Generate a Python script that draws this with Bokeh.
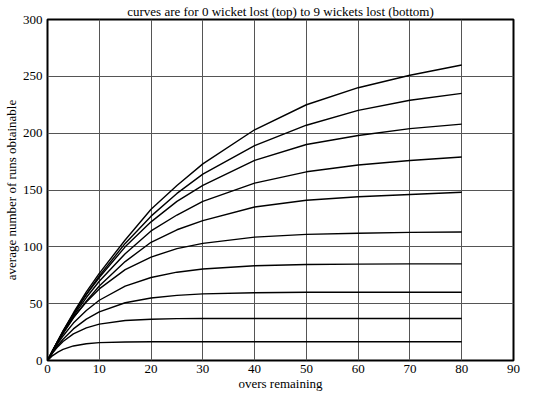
from bokeh.plotting import figure
from bokeh.models import SingleIntervalTicker, Title
from bokeh.embed import file_html
from bokeh.resources import INLINE

overs = [0, 1, 2, 3, 5, 7.5, 10, 15, 20, 25, 30, 40, 50, 60, 70, 80]

runs_0w = [0, 8.8, 17.4, 26, 41.8, 60.4, 76.7, 106, 133, 154, 173, 203, 225, 240, 251, 260]
runs_1w = [0, 8.7, 17.2, 25.6, 40.5, 58.1, 74.4, 103, 127, 147, 164, 189, 207, 220, 229, 235]
runs_2w = [0, 8.9, 17.4, 25.5, 41, 58, 73, 100, 122, 140, 154, 176, 190, 198, 204, 208]
runs_3w = [0, 8.6, 16.8, 24.6, 39, 55.4, 69.7, 94, 114, 128, 140, 156, 166, 172, 176, 179]
runs_4w = [0, 8.4, 16.3, 23.7, 37.5, 52.2, 65.6, 87, 104, 115, 123, 135, 141, 144, 146, 148]
runs_5w = [0, 8.8, 16.9, 24.2, 37.8, 51.4, 63, 80, 91, 98.4, 103, 108.5, 111, 112, 112.7, 113]
runs_6w = [0, 7.9, 15.1, 21.6, 32.9, 44, 53, 65.5, 73, 77.7, 80.5, 83.3, 84.4, 84.8, 85, 85]
runs_7w = [0, 7, 13.2, 18.7, 27.8, 36.4, 42.7, 50.8, 55, 57.3, 58.6, 59.6, 60, 60, 60, 60]
runs_8w = [0, 6.7, 12.2, 16.7, 23.4, 28.7, 32, 35.2, 36.3, 36.8, 37, 37, 37, 37, 37, 37]
runs_9w = [0, 4.3, 7.4, 9.8, 12.8, 14.7, 15.7, 16.3, 16.5, 16.5, 16.5, 16.5, 16.5, 16.5, 16.5, 16.5]

all_runs = [runs_0w, runs_1w, runs_2w, runs_3w, runs_4w,
            runs_5w, runs_6w, runs_7w, runs_8w, runs_9w]

title_text = "curves are for 0 wicket lost (top) to 9 wickets lost (bottom)"
x_label = "overs remaining"
y_label = "average number of runs obtainable"

FONT = "Liberation Serif"

p = figure(width=541, height=398, x_range=(0, 90), y_range=(0, 300),
           output_backend="svg", toolbar_location=None,
           min_border_left=47, min_border_right=28,
           min_border_top=0, min_border_bottom=38)

p.background_fill_color = "white"
p.border_fill_color = "white"
p.outline_line_color = "black"
p.outline_line_width = 2

p.title.text = title_text
p.title.align = "center"
p.title.text_font = FONT
p.title.text_font_size = "13px"
p.title.text_font_style = "normal"
p.title.text_color = "black"
p.title.standoff = 2
p.title.offset = 0

p.xaxis.ticker = SingleIntervalTicker(interval=10)
p.yaxis.ticker = SingleIntervalTicker(interval=50)
p.axis.axis_line_color = None
p.axis.major_tick_line_color = None
p.axis.minor_tick_line_color = None
p.axis.major_tick_out = 0
p.axis.major_tick_in = 0
p.axis.minor_tick_out = 0
p.axis.minor_tick_in = 0
p.xaxis.major_label_text_font = FONT
p.yaxis.major_label_text_font = FONT
p.xaxis.major_label_text_font_size = "13px"
p.yaxis.major_label_text_font_size = "13px"
p.xaxis.major_label_text_color = "black"
p.yaxis.major_label_text_color = "black"
p.xaxis.major_label_standoff = 4
p.yaxis.major_label_standoff = 5

p.xaxis.axis_label = x_label
p.xaxis.axis_label_text_font = FONT
p.xaxis.axis_label_text_font_size = "13px"
p.xaxis.axis_label_text_font_style = "normal"
p.xaxis.axis_label_text_color = "black"
p.xaxis.axis_label_standoff = 0

p.add_layout(Title(text=y_label, align="center", offset=-30,
                   text_font=FONT, text_font_size="13px",
                   text_font_style="normal", text_color="black",
                   standoff=2), "left")

p.xgrid.grid_line_color = "#555555"
p.ygrid.grid_line_color = "#555555"
p.xgrid.grid_line_width = 1
p.ygrid.grid_line_width = 1

for r in all_runs:
    p.line(overs, r, line_color="black", line_width=1.4)

open("out.html", "w").write(file_html(p, INLINE))
